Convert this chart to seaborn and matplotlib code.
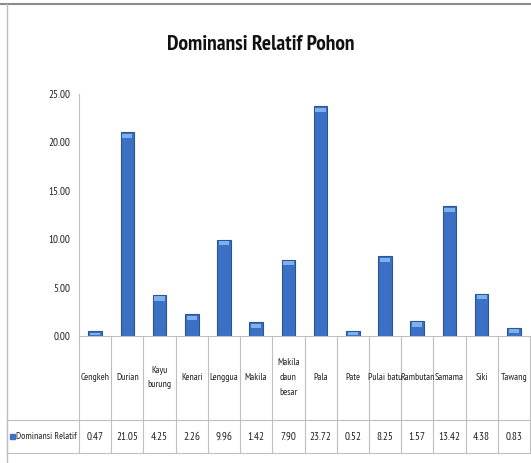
import matplotlib
matplotlib.use("Agg")
import matplotlib.pyplot as plt
import seaborn as sns
import pandas as pd
import os
from matplotlib import font_manager as fm
from matplotlib.patches import Rectangle
from matplotlib.lines import Line2D

categories = ["Cengkeh", "Durian", "Kayu\nburung", "Kenari", "Lenggua", "Makila",
              "Makila\ndaun\nbesar", "Pala", "Pate", "Pulai batu", "Rambutan",
              "Samama", "Siki", "Tawang"]
values = [0.47, 21.05, 4.25, 2.26, 9.96, 1.42, 7.90, 23.72, 0.52, 8.25, 1.57,
          13.42, 4.38, 0.83]
value_labels = ["0.47", "21.05", "4.25", "2.26", "9.96", "1.42", "7.90", "23.72",
                "0.52", "8.25", "1.57", "13.42", "4.38", "0.83"]
yticks = [0, 5, 10, 15, 20, 25]
ytick_labels = ["0.00", "5.00", "10.00", "15.00", "20.00", "25.00"]
series_name = "Dominansi Relatif"
title = "Dominansi Relatif Pohon"

sns.set_theme(style="white")
plt.rcParams["font.family"] = ["DejaVu Sans"]

BAD = ["bold", "italic", "light", "thin", "black", "medium", "semibold", "oblique"]


def is_cond_file(path, name="", stretch=""):
    base = os.path.basename(path).lower()
    return ("narrow" in base or "condensed" in base or "narrow" in name.lower()
            or "condensed" in name.lower() or "condensed" in str(stretch).lower())


def pick_condensed():
    best, best_score = None, -1
    for f in fm.fontManager.ttflist:
        base = os.path.basename(f.fname).lower()
        if not is_cond_file(f.fname, f.name, f.stretch) or any(k in base for k in BAD):
            continue
        score = 1
        if "extracondensed" in base:
            score += 3
        elif "semicondensed" in base:
            score += 1
        else:
            score += 2
        if "narrow" in base:
            score += 4
        if "sans" in base:
            score += 1
        if score > best_score:
            best, best_score = f, score
    return best


cond = pick_condensed()
bold_path = None
if cond is not None:
    for wt in ["semibold", "bold"]:
        try:
            prop = fm.FontProperties(family=cond.name, stretch=cond.stretch, weight=wt)
            path = fm.findfont(prop, fallback_to_default=False)
            b = os.path.basename(path).lower()
            if path != cond.fname and is_cond_file(path) and "italic" not in b \
                    and "bold" in b:
                bold_path = path
                break
        except Exception:
            pass

if cond is not None:
    FP = lambda size: fm.FontProperties(fname=cond.fname, size=size)
    if bold_path:
        FPT = lambda size: fm.FontProperties(fname=bold_path, size=size)
    else:
        FPT = FP
    head, val, tick, title_size = 7, 8, 8, 15.5
else:
    FP = lambda size: fm.FontProperties(family="DejaVu Sans", size=size)
    FPT = FP
    head, val, tick, title_size = 5.6, 6, 7, 15

W, H = 531, 463
fig = plt.figure(figsize=(W / 100, H / 100), dpi=100)
fig.patch.set_facecolor("white")


def fx(px):
    return px / W


def fy(py):
    return 1 - py / H


# outer frame lines
fig.add_artist(Line2D([0, 1], [fy(4), fy(4)], transform=fig.transFigure, color="#8c8c8c", lw=1.5))
fig.add_artist(Line2D([fx(7), fx(7)], [fy(4), 0], transform=fig.transFigure, color="#bdbdbd", lw=1))

# bar axes
left_px, right_px = 79, 530
top_px, bot_px = 94, 336
ax = fig.add_axes([fx(left_px), fy(bot_px), fx(right_px - left_px), (bot_px - top_px) / H])
df = pd.DataFrame({"cat": categories, "val": values})
sns.barplot(data=df, x="cat", y="val", ax=ax, color="#3b70c4", width=0.42,
            edgecolor="#2a5597", linewidth=0.8, saturation=1)
ax.set_xlim(-0.5, len(categories) - 0.5)
ax.set_ylim(0, 25)
ax.set_yticks(yticks)
ax.set_yticklabels(ytick_labels)
for lab in ax.get_yticklabels():
    lab.set_fontproperties(FP(tick))
    lab.set_color("#222222")
ax.tick_params(axis="y", length=0, pad=6)
ax.set_xticks([])
ax.set_xlabel("")
ax.set_ylabel("")
for s in ["top", "right"]:
    ax.spines[s].set_visible(False)
for s in ["left", "bottom"]:
    ax.spines[s].set_color("#bfbfbf")
    ax.spines[s].set_linewidth(0.8)

# highlight on top of bars
for p in ax.patches:
    x0, w, h = p.get_x(), p.get_width(), p.get_height()
    hl = min(0.45, h * 0.5)
    ax.add_patch(Rectangle((x0 + w * 0.12, h - hl - 0.15), w * 0.76, hl,
                           color="#7fb0ee", lw=0, zorder=p.get_zorder() + 0.1))

fig.text(fx(261), fy(45), title, ha="center", va="center",
         fontproperties=FPT(title_size), color="#111111")

# data table axes
tab_top, tab_mid, tab_bot = 337, 420, 453
tax = fig.add_axes([fx(left_px), fy(tab_bot), fx(right_px - left_px), (tab_bot - tab_top) / H])
tax.set_xlim(-0.5, len(categories) - 0.5)
tax.set_ylim(0, tab_bot - tab_top)
tax.axis("off")
line_c = "#bfbfbf"
n = len(categories)
mid = tab_bot - tab_mid
colw = (right_px - left_px) / n
leg_left = -0.5 - (left_px - 7) / colw
for i in range(n + 1):
    tax.plot([i - 0.5, i - 0.5], [0, tab_bot - tab_top + 1], color=line_c, lw=0.8, clip_on=False)
tax.plot([leg_left, n - 0.5], [mid, mid], color=line_c, lw=0.8, clip_on=False)
tax.plot([leg_left, n - 0.5], [0, 0], color=line_c, lw=0.8, clip_on=False)
tax.plot([leg_left, leg_left], [0, mid], color=line_c, lw=0.8, clip_on=False)
for i, (c, v) in enumerate(zip(categories, value_labels)):
    tax.text(i, (mid + tab_bot - tab_top) / 2 + 1, c, ha="center", va="center",
             fontproperties=FP(head), color="#222222", linespacing=1.8)
    tax.text(i, mid / 2, v, ha="center", va="center", fontproperties=FP(val),
             color="#222222")
sq = 5 / colw
tax.add_patch(Rectangle((leg_left + 3 / colw, mid / 2 - 2.5), sq, 5, color="#3b70c4",
                        clip_on=False))
tax.text(leg_left + 9 / colw, mid / 2, series_name, ha="left", va="center",
         fontproperties=FP(head), color="#222222", clip_on=False)

fig.savefig("out.png", dpi=100, facecolor="white")
